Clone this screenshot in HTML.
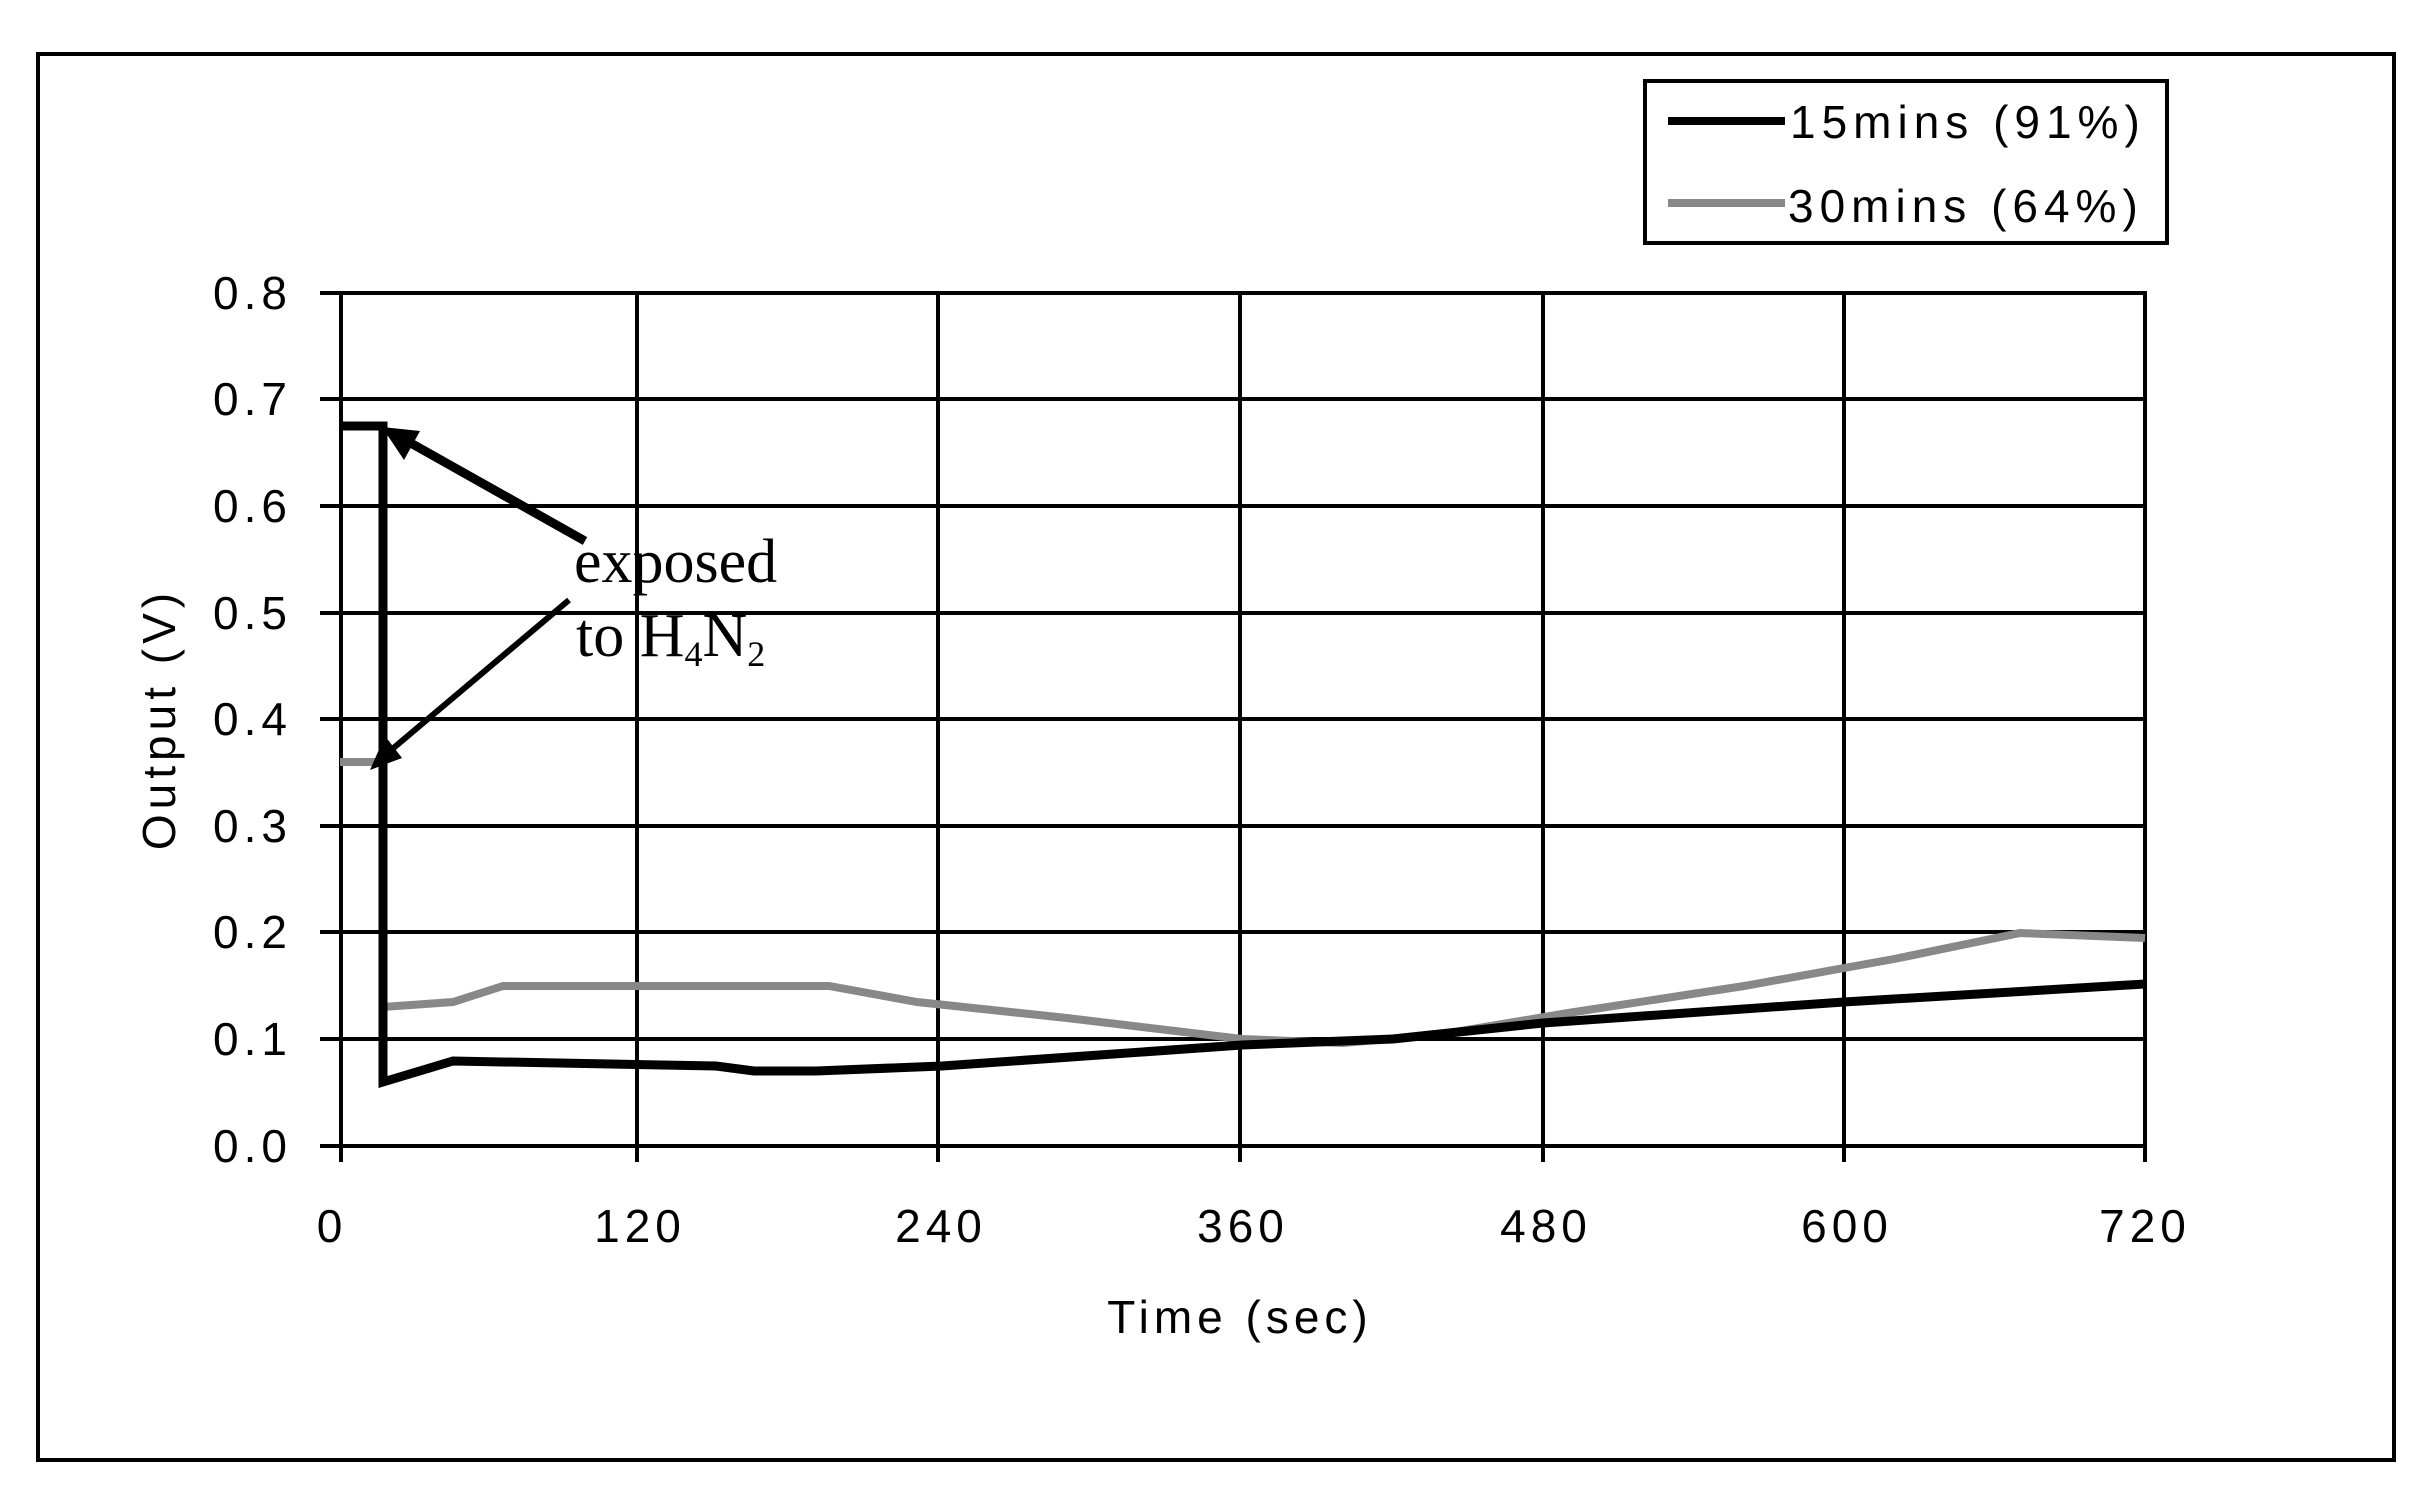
<!DOCTYPE html>
<html><head><style>body{margin:0;background:#fff}svg{display:block}</style></head>
<body>
<svg width="2425" height="1510" viewBox="0 0 2425 1510" xmlns="http://www.w3.org/2000/svg">
<rect x="0" y="0" width="2425" height="1510" fill="#fff"/>
<rect x="38" y="54" width="2356" height="1406" fill="none" stroke="#000" stroke-width="4"/>
<g stroke="#000" stroke-width="4">
<line x1="320" y1="293" x2="2147" y2="293"/>
<line x1="320" y1="399" x2="2147" y2="399"/>
<line x1="320" y1="506" x2="2147" y2="506"/>
<line x1="320" y1="613" x2="2147" y2="613"/>
<line x1="320" y1="719" x2="2147" y2="719"/>
<line x1="320" y1="826" x2="2147" y2="826"/>
<line x1="320" y1="932" x2="2147" y2="932"/>
<line x1="320" y1="1039" x2="2147" y2="1039"/>
<line x1="320" y1="1146" x2="2147" y2="1146"/>
<line x1="341" y1="293" x2="341" y2="1162"/>
<line x1="637" y1="293" x2="637" y2="1162"/>
<line x1="938" y1="293" x2="938" y2="1162"/>
<line x1="1240" y1="293" x2="1240" y2="1162"/>
<line x1="1543" y1="293" x2="1543" y2="1162"/>
<line x1="1844" y1="293" x2="1844" y2="1162"/>
<line x1="2145" y1="293" x2="2145" y2="1162"/>
</g>
<g font-family="Liberation Sans, sans-serif" font-size="46" fill="#000" letter-spacing="5">
<g text-anchor="end">
<text x="292" y="309">0.8</text><text x="292" y="415">0.7</text><text x="292" y="522">0.6</text>
<text x="292" y="629">0.5</text><text x="292" y="735">0.4</text><text x="292" y="842">0.3</text>
<text x="292" y="948">0.2</text><text x="292" y="1055">0.1</text><text x="292" y="1162">0.0</text>
</g>
<g text-anchor="middle">
<text x="332" y="1242">0</text><text x="640" y="1242">120</text><text x="941" y="1242">240</text>
<text x="1243" y="1242">360</text><text x="1546" y="1242">480</text><text x="1847" y="1242">600</text>
<text x="2145" y="1242">720</text>
<text x="1240" y="1333">Time (sec)</text>
<text x="0" y="0" transform="translate(175,719) rotate(-90)">Output (V)</text>
</g>
<text x="1790" y="138" letter-spacing="6">15mins (91%)</text>
<text x="1788" y="222" letter-spacing="6">30mins (64%)</text>
</g>
<rect x="1645" y="81" width="522" height="162" fill="none" stroke="#000" stroke-width="4"/>
<line x1="1668" y1="121" x2="1785" y2="121" stroke="#000" stroke-width="8"/>
<line x1="1668" y1="203" x2="1785" y2="203" stroke="#888" stroke-width="8"/>
<polyline fill="none" stroke="#888" stroke-width="8" points="340,762 383,762 383,1007 453,1002 503,986 829,986 917,1002 1067,1018 1242,1039 1343,1043 1443,1034 1568,1013 1744,986 1894,959 2020,933 2145,938"/>
<polyline fill="none" stroke="#000" stroke-width="9" points="340,426 383,426 383,1082 453,1061 716,1066 754,1071 816,1071 942,1066 1242,1045 1393,1039 1543,1023 1844,1002 2145,984"/>
<line x1="585" y1="541" x2="400" y2="437" stroke="#000" stroke-width="9"/>
<polygon points="382,427 420,431 404,460" fill="#000"/>
<line x1="569" y1="600" x2="384" y2="756" stroke="#000" stroke-width="6"/>
<polygon points="370,770 385,736 402,758" fill="#000"/>
<g font-family="Liberation Serif, serif" font-size="62" fill="#000">
<text x="574" y="582">exposed</text>
<text x="576" y="656">to H<tspan font-size="36" dy="10">4</tspan><tspan dy="-10">N</tspan><tspan font-size="36" dy="10">2</tspan></text>
</g>
</svg>
</body></html>
